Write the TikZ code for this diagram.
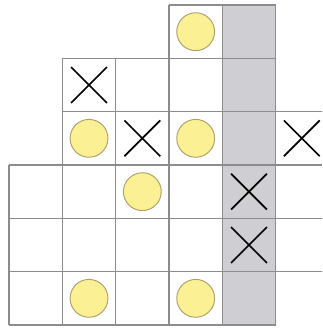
\documentclass[tikz,border=0pt]{standalone}
\usetikzlibrary{shapes.misc}
\definecolor{gridline}{HTML}{8C8C8C}
\definecolor{colgrey}{HTML}{CFCED3}
\definecolor{dotfill}{HTML}{FCF095}
\definecolor{dotedge}{HTML}{A89F6A}
\tikzset{
  gridstroke/.style={draw=gridline, line width=0.6pt},
  dot/.style={circle, fill=dotfill, draw=dotedge, line width=0.5pt, minimum size=0.71cm, inner sep=0pt},
  cross/.style={cross out, draw=black, line width=0.9pt, minimum size=0.64cm, inner sep=0pt}
}
\begin{document}
\begin{tikzpicture}[x=1cm,y=1cm]
\useasboundingbox (-0.169,-0.075) rectangle (5.869,6.094);
% shaded column
\fill[fill=colgrey] (4,0) rectangle (5,6);
% horizontal lines
\draw[gridstroke] (3,6) -- (5,6);
\draw[gridstroke] (1,5) -- (5,5);
\draw[gridstroke] (1,4) -- (5.869,4);
\draw[gridstroke] (0,3) -- (5.869,3);
\draw[gridstroke] (0,2) -- (5.869,2);
\draw[gridstroke] (0,1) -- (5.869,1);
\draw[gridstroke] (0,0) -- (5,0);
% vertical lines
\draw[gridstroke] (0,0) -- (0,3);
\draw[gridstroke] (1,0) -- (1,5);
\draw[gridstroke] (2,0) -- (2,5);
\draw[gridstroke] (3,0) -- (3,6);
\draw[gridstroke] (4,0) -- (4,6);
\draw[gridstroke] (5,0) -- (5,6);
% circles
\node[dot] (c1) at (3.5,5.5) {};
\node[dot] (c2) at (1.5,3.5) {};
\node[dot] (c3) at (3.5,3.5) {};
\node[dot] (c4) at (2.5,2.5) {};
\node[dot] (c5) at (1.5,0.5) {};
\node[dot] (c6) at (3.5,0.5) {};
% crosses
\node[cross] (x1) at (1.5,4.5) {};
\node[cross] (x2) at (2.5,3.5) {};
\node[cross] (x3) at (5.49,3.5) {};
\node[cross] (x4) at (4.5,2.5) {};
\node[cross] (x5) at (4.5,1.5) {};
\end{tikzpicture}
\end{document}
